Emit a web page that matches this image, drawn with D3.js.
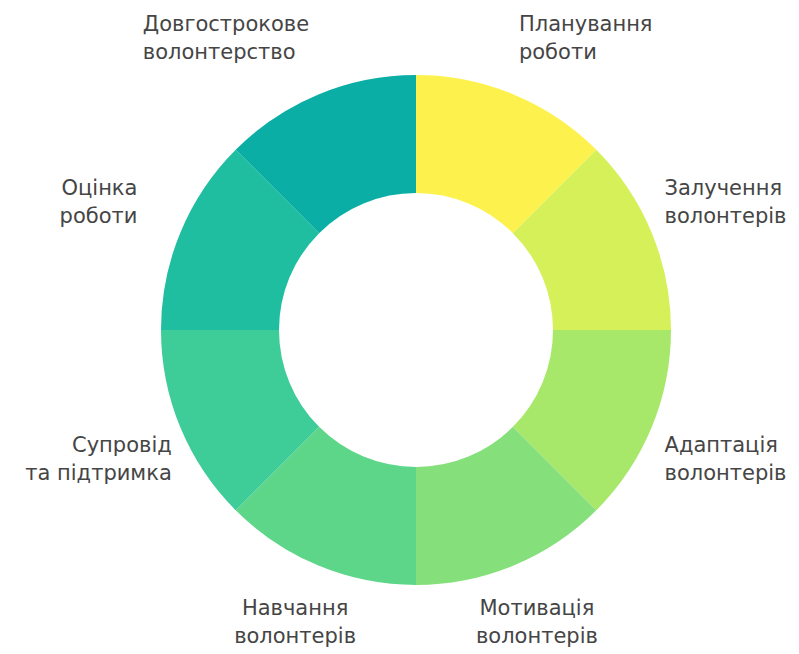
<!DOCTYPE html>
<html>
<head>
<meta charset="utf-8">
<script src="https://cdn.jsdelivr.net/npm/d3@7"></script>
<style>
  body { margin: 0; background: #fff; }
  svg { display: block; }
  .lbl { font-family: "DejaVu Sans", Verdana, sans-serif; font-size: 21px; fill: #454545; }
</style>
</head>
<body>
<svg></svg>
<script>
// stages of the volunteer cycle, clockwise from the top
var stages = [
  ["Планування", "роботи"],
  ["Залучення", "волонтерів"],
  ["Адаптація", "волонтерів"],
  ["Мотивація", "волонтерів"],
  ["Навчання", "волонтерів"],
  ["Супровід", "та підтримка"],
  ["Оцінка", "роботи"],
  ["Довгострокове", "волонтерство"]
];
var shares = [1, 1, 1, 1, 1, 1, 1, 1];
var colours = ["#fdf24d", "#d6f05a", "#a7e86a", "#85e07b", "#5ed68a", "#3ecc98", "#1fbea1", "#0aaea5"];

var svgWidth = 799, svgHeight = 654;
var cx = 416, cy = 330, outerR = 255, innerR = 137;

var svg = d3.select("svg")
    .attr("width", svgWidth)
    .attr("height", svgHeight);

var pie = d3.pie().sort(null).value(function(d){ return d; });
var arc = d3.arc().innerRadius(innerR).outerRadius(outerR);
var colour = d3.scaleOrdinal().domain(d3.range(stages.length)).range(colours);

var g = svg.append("g").attr("transform", "translate(" + cx + "," + cy + ")");
var arcs = pie(shares);

g.selectAll("path")
    .data(arcs)
    .enter()
    .append("path")
    .attr("d", arc)
    .attr("fill", function(d, i){ return colour(i); });

// labels: sides at r=335, top and bottom at r=316
var lineH = 28;
arcs.forEach(function(d, i){
    var a = (d.startAngle + d.endAngle) / 2;
    var s = Math.sin(a), c = Math.cos(a);
    var top = c > 0.8, bottom = c < -0.8;
    var r = (top || bottom) ? 316 : 335;
    var px = s * r, py = -c * r;

    var t = g.append("text").attr("class", "lbl");
    var spans = stages[i].map(function(line, k){
        return t.append("tspan").text(line).attr("y", py + (k - 0.5) * lineH).attr("dy", "0.35em");
    });
    var w = d3.max(spans, function(sp){ return sp.node().getComputedTextLength(); });

    var left, align;
    if (top) {
        // near edge sits just inside the angle point, block left-aligned
        left = s > 0 ? px - 18 : px + 14 - w;
        align = "start";
    } else if (bottom) {
        align = "middle";
    } else {
        align = s > 0 ? "start" : "end";
        left = px - w / 2 - (s > 0 ? 0 : 8);
    }
    spans.forEach(function(sp){
        if (align === "middle") sp.attr("x", px).attr("text-anchor", "middle");
        else if (align === "start") sp.attr("x", left).attr("text-anchor", "start");
        else sp.attr("x", left + w).attr("text-anchor", "end");
    });
});
</script>
</body>
</html>
